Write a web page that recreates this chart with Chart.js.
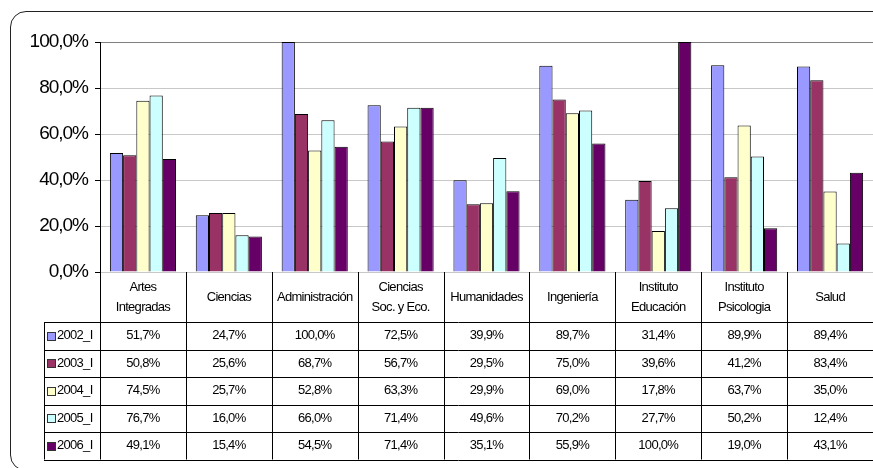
<!DOCTYPE html>
<html>
<head>
<meta charset="utf-8">
<script src="https://cdn.jsdelivr.net/npm/chart.js@4/dist/chart.umd.min.js"></script>
<style>
  html, body { margin: 0; padding: 0; background: #fff; overflow: hidden; }
  #wrap { position: relative; width: 873px; height: 468px; }
  #frame { position: absolute; left: 10px; top: 11px; width: 900px; height: 458px;
           border: 1.5px solid #222; border-radius: 16px; }
  #chart { position: absolute; left: 0; top: 0; }
</style>
</head>
<body>
<div id="wrap">
  <div id="frame"></div>
  <canvas id="chart" width="873" height="468"></canvas>
</div>
<script>
const categories = [
  ["Artes", "Integradas"], ["Ciencias"], ["Administración"], ["Ciencias", "Soc. y Eco."],
  ["Humanidades"], ["Ingeniería"], ["Instituto", "Educación"], ["Instituto", "Psicologia"], ["Salud"]
];
const seriesNames = ["2002_I", "2003_I", "2004_I", "2005_I", "2006_I"];
const s2002 = [51.7, 24.7, 100.0, 72.5, 39.9, 89.7, 31.4, 89.9, 89.4];
const s2003 = [50.8, 25.6, 68.7, 56.7, 29.5, 75.0, 39.6, 41.2, 83.4];
const s2004 = [74.5, 25.7, 52.8, 63.3, 29.9, 69.0, 17.8, 63.7, 35.0];
const s2005 = [76.7, 16.0, 66.0, 71.4, 49.6, 70.2, 27.7, 50.2, 12.4];
const s2006 = [49.1, 15.4, 54.5, 71.4, 35.1, 55.9, 100.0, 19.0, 43.1];
const yTicks = [0, 20, 40, 60, 80, 100];

const seriesValues = [s2002, s2003, s2004, s2005, s2006];
const seriesColors = ["#9999ff", "#993366", "#ffffcc", "#ccffff", "#660066"];

const fmt = v => v.toFixed(1).replace(".", ",") + "%";

// letras apretadas como en el original de Excel
const tightText = {
  id: "tightText",
  beforeDraw(chart) { chart.ctx.letterSpacing = "-1px"; }
};

// tabla de datos debajo del eje X
const dataTable = {
  id: "dataTable",
  afterDraw(chart) {
    const ctx = chart.ctx;
    const area = chart.chartArea;
    const x = chart.scales.x;
    const n = categories.length;
    const colW = (area.right - area.left) / n;
    const headTop = area.bottom;
    const headBottom = 322;
    const rowH = 27.5;
    const tableBottom = headBottom + rowH * seriesNames.length;
    const leftX = 44;

    ctx.save();
    ctx.strokeStyle = "#000";
    ctx.lineWidth = 1;
    ctx.beginPath();
    // líneas verticales
    for (let i = 0; i <= n; i++) {
      const px = Math.round(area.left + i * colW) + 0.5;
      ctx.moveTo(px, headTop);
      ctx.lineTo(px, tableBottom);
    }
    ctx.moveTo(leftX + 0.5, headBottom);
    ctx.lineTo(leftX + 0.5, tableBottom);
    // líneas horizontales
    for (let r = 0; r <= seriesNames.length; r++) {
      const py = Math.round(headBottom + r * rowH) + 0.5;
      ctx.moveTo(leftX, py);
      ctx.lineTo(area.right, py);
    }
    ctx.stroke();

    ctx.fillStyle = "#000";
    ctx.font = "13px 'Liberation Sans', Arial, sans-serif";
    ctx.letterSpacing = "-0.7px";
    ctx.textAlign = "center";
    ctx.textBaseline = "middle";

    categories.forEach((lines, i) => {
      const cx = x.getPixelForValue(i);
      const mid = (headTop + headBottom) / 2;
      lines.forEach((ln, k) => {
        const cy = mid + (k - (lines.length - 1) / 2) * 20;
        ctx.fillText(ln, cx, cy);
      });
    });

    seriesNames.forEach((name, r) => {
      const cy = headBottom + r * rowH + rowH / 2;
      ctx.textAlign = "center";
      seriesValues[r].forEach((v, i) => {
        ctx.fillText(fmt(v), x.getPixelForValue(i), cy);
      });
      // clave de la leyenda
      ctx.fillStyle = seriesColors[r];
      ctx.fillRect(47.5, Math.round(cy - 4) + 0.5, 8, 8);
      ctx.strokeStyle = "#333";
      ctx.strokeRect(47.5, Math.round(cy - 4) + 0.5, 8, 8);
      ctx.fillStyle = "#000";
      ctx.textAlign = "left";
      ctx.fillText(name, 57, cy);
    });
    ctx.restore();
  }
};

new Chart(document.getElementById("chart"), {
  type: "bar",
  data: {
    labels: categories.map(c => c.join(" ")),
    datasets: seriesNames.map((name, i) => ({
      label: name,
      data: seriesValues[i],
      backgroundColor: seriesColors[i],
      borderColor: "#000",
      borderWidth: 1,
      categoryPercentage: 0.77,
      barPercentage: 1.0
    }))
  },
  options: {
    responsive: false,
    animation: false,
    layout: { padding: { top: 42, bottom: 196, left: 0, right: 0 } },
    plugins: { legend: { display: false }, tooltip: { enabled: false } },
    scales: {
      x: { display: false },
      y: {
        min: 0,
        max: 100,
        afterBuildTicks: axis => { axis.ticks = yTicks.map(v => ({ value: v })); },
        afterFit: scale => { scale.width = 100; },
        border: { color: "#000", width: 1 },
        grid: {
          color: ctx => ctx.tick && ctx.tick.value === 100 ? "#808080" : "#c8c8c8",
          tickColor: "#000",
          tickLength: 5
        },
        ticks: {
          color: "#000",
          padding: 7,
          font: { family: "'Liberation Sans', Arial, sans-serif", size: 19 },
          callback: v => fmt(v)
        }
      }
    }
  },
  plugins: [tightText, dataTable]
});
</script>
</body>
</html>
